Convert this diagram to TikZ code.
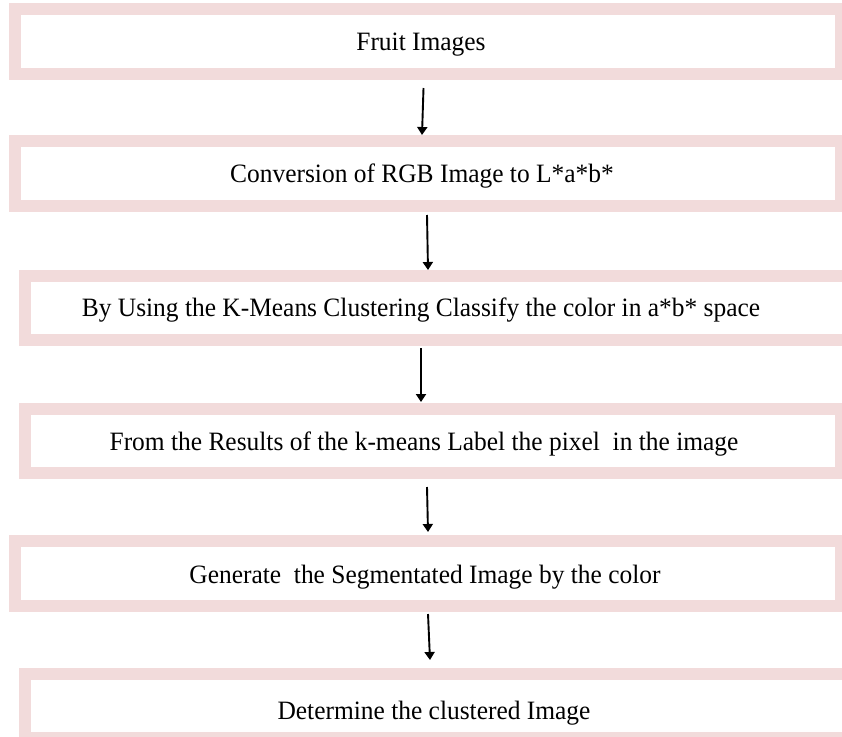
\documentclass[tikz,border=0pt]{standalone}
\usepackage{fontspec}
\setmainfont{Liberation Serif}[FakeStretch=0.96]
\usetikzlibrary{arrows.meta}
\definecolor{boxpink}{HTML}{F2DBDB}
\begin{document}
\begin{tikzpicture}[x=1pt,y=-1pt,
  stagebox/.style={draw=boxpink, line width=12pt, fill=white, inner sep=0pt, outer sep=0pt},
  stagetext/.style={font=\fontsize{26.5}{30}\selectfont, inner sep=0pt, anchor=base},
  flow/.style={line width=1.9pt, -{Triangle[length=8pt,width=10pt]}}]
\useasboundingbox (0,0) rectangle (842,736);
\clip (0,0) rectangle (842,736);
\fill[white] (0,0) rectangle (842,736);
% boxes
\node[stagebox, minimum width=826pt, minimum height=65pt] (b1) at (428,41.5) {};
\node[stagebox, minimum width=826pt, minimum height=65pt] (b2) at (428,173.5) {};
\node[stagebox, minimum width=826pt, minimum height=64pt] (b3) at (438,308) {};
\node[stagebox, minimum width=816pt, minimum height=64pt] (b4) at (433,441) {};
\node[stagebox, minimum width=826pt, minimum height=65pt] (b5) at (428,573.5) {};
\node[stagebox, minimum width=826pt, minimum height=64pt] (b6) at (438,706) {};
% texts
\node[stagetext] (t1) at (421,50) {Fruit Images};
\node[stagetext] (t2) at (422,182) {Conversion of RGB Image to L*a*b*};
\node[stagetext] (t3) at (421,316) {By Using the K-Means Clustering Classify the color in a*b* space};
\node[stagetext] (t4) at (424,450) {From the Results of the k-means Label the pixel\ \ in the image};
\node[stagetext] (t5) at (425,583) {Generate\ \ the Segmentated Image by the color};
\node[stagetext] (t6) at (434,719) {Determine the clustered Image};
% connectors
\coordinate (a1s) at (423.5,88);  \coordinate (a1e) at (422,135);
\coordinate (a2s) at (427,215);   \coordinate (a2e) at (428,270);
\coordinate (a3s) at (421,348);   \coordinate (a3e) at (421,402);
\coordinate (a4s) at (427,487);   \coordinate (a4e) at (428,532);
\coordinate (a5s) at (428,614);   \coordinate (a5e) at (430,660);
\draw[flow] (a1s) -- (a1e);
\draw[flow] (a2s) -- (a2e);
\draw[flow] (a3s) -- (a3e);
\draw[flow] (a4s) -- (a4e);
\draw[flow] (a5s) -- (a5e);
\end{tikzpicture}
\end{document}
